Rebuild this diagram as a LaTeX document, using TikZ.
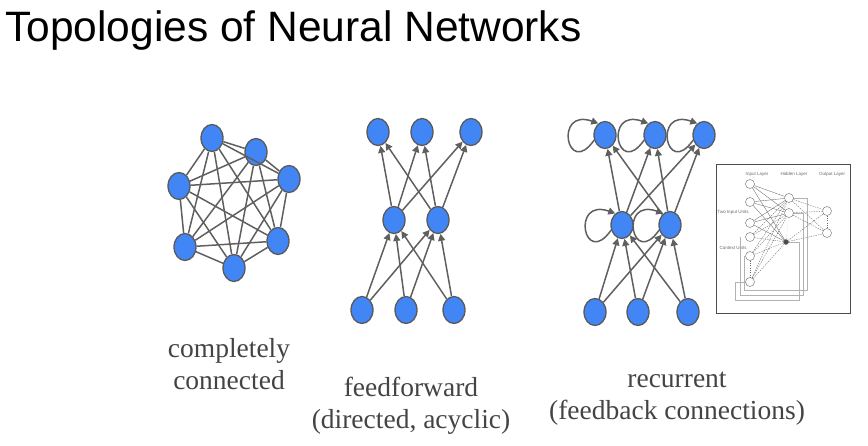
\documentclass[tikz,border=0pt]{standalone}
\usepackage{fontspec}
\setmainfont{Liberation Serif}
\newfontfamily\headfont{Liberation Sans}
\usetikzlibrary{shapes.geometric,arrows.meta}

\definecolor{nodeblue}{HTML}{4285F4}
\definecolor{rimgray}{HTML}{595959}
\definecolor{linkgray}{HTML}{5F5F5F}
\definecolor{captiongray}{HTML}{444444}
\definecolor{sketchgray}{HTML}{6A6A6A}

\begin{document}
\begin{tikzpicture}[x=1pt,y=-1pt,
  neuron/.style={ellipse, draw=rimgray, fill=nodeblue, line width=1.3pt,
    minimum width=22pt, minimum height=27pt, inner sep=0pt},
  link/.style={draw=linkgray, line width=1.5pt},
  flow/.style={link, -{Triangle[length=7pt,width=7pt]}},
  caption/.style={font=\fontsize{27.5}{32}\selectfont, text=captiongray, align=center},
  unit/.style={circle, draw=sketchgray, fill=white, line width=0.4pt,
    minimum size=9pt, inner sep=0pt},
  tinytext/.style={font=\headfont\fontsize{4.5}{5}\selectfont, text=sketchgray, inner sep=0pt},
  wire/.style={draw=sketchgray, line width=0.35pt},
  feedback/.style={draw=black!30, line width=0.6pt},
]
\useasboundingbox (0,0) rectangle (868,445);

% heading
\node[anchor=base west, inner sep=0pt, font=\headfont\fontsize{42.5}{48}\selectfont]
  (title) at (5,41) {Topologies of Neural Networks};

% ---- completely connected graph ----
\node[neuron] (c1) at (212,138) {};
\node[neuron] (c2) at (256,152) {};
\node[neuron] (c3) at (289,179) {};
\node[neuron] (c4) at (179,186) {};
\node[neuron] (c5) at (185,247) {};
\node[neuron] (c6) at (278,241) {};
\node[neuron] (c7) at (234,268) {};
\foreach \i [evaluate=\i as \k using int(\i+1)] in {1,...,6}
  \foreach \j in {\k,...,7}
    \draw[link] (c\i) -- (c\j);

% ---- feedforward network ----
\node[neuron] (f1) at (378,132) {};
\node[neuron] (f2) at (422,132) {};
\node[neuron] (f3) at (471,132) {};
\node[neuron] (h1) at (394,220) {};
\node[neuron] (h2) at (438,220) {};
\node[neuron] (i1) at (362,310) {};
\node[neuron] (i2) at (406,310) {};
\node[neuron] (i3) at (454,310) {};
\foreach \a in {h1,h2}
  \foreach \b in {f1,f2,f3}
    \draw[flow] (\a) -- (\b);
\foreach \a in {i1,i2,i3}
  \foreach \b in {h1,h2}
    \draw[flow] (\a) -- (\b);

% ---- recurrent network ----
\node[neuron] (rt1) at (605,135) {};
\node[neuron] (rt2) at (655,135) {};
\node[neuron] (rt3) at (704,135) {};
\node[neuron] (rh1) at (622,225) {};
\node[neuron] (rh2) at (670,225) {};
\node[neuron] (ri1) at (595,312) {};
\node[neuron] (ri2) at (638,312) {};
\node[neuron] (ri3) at (688,312) {};
\foreach \a in {rh1,rh2}
  \foreach \b in {rt1,rt2,rt3}
    \draw[flow] (\a) -- (\b);
\foreach \a in {ri1,ri2,ri3}
  \foreach \b in {rh1,rh2}
    \draw[flow] (\a) -- (\b);
% self-feedback loops on the left of each unit (y grows downwards)
\foreach \n in {rt1,rt2,rt3,rh1,rh2}
  \draw[flow] (\n.205) .. controls +(-27,39) and +(-45,-16) .. (\n.120);

% ---- Elman network sketch ----
\draw[draw=black!70, line width=0.9pt] (716,164) rectangle (850,313);
\node[tinytext] (lin)  at (757,174) {Input Layer};
\node[tinytext] (lhid) at (794,174) {Hidden Layer};
\node[tinytext] (lout) at (832,174) {Output Layer};
\node[tinytext] (ltwo) at (733,212) {Two Input Units};
\node[tinytext] (lctx) at (733,248) {Context Units};

\draw[feedback] (789,198) -- (807,198) -- (807,290) -- (744,290) -- (744,256);
\draw[feedback] (789,213) -- (803,213) -- (803,295) -- (740,295) -- (740,237);
\draw[feedback] (786,242) -- (799,242) -- (799,300) -- (735,300) -- (735,282) -- (750,282);

\node[unit] (u1) at (750,184) {};
\node[unit] (u2) at (750,202) {};
\node[unit] (u3) at (750,223) {};
\node[unit] (u4) at (750,237) {};
\node[unit] (u5) at (750,256) {};
\node[unit] (u6) at (750,282) {};
\node[unit] (v1) at (789,198) {};
\node[unit] (v2) at (789,213) {};
\node[unit, fill=black!70, minimum size=5pt] (v3) at (786,242) {};
\node[unit] (w1) at (827,211) {};
\node[unit] (w2) at (827,233) {};

\foreach \a in {u1,u2,u3}
  \foreach \b in {v1,v2,v3}
    \draw[wire] (\a) -- (\b);
\foreach \a in {u4,u5,u6}
  \foreach \b in {v1,v2,v3}
    \draw[wire, dash pattern=on 1.5pt off 1pt] (\a) -- (\b);
\foreach \a in {v1,v2,v3}
  \foreach \b in {w1,w2}
    \draw[wire, dash pattern=on 1.5pt off 1pt] (\a) -- (\b);
\draw[wire, dotted] (u5) -- (u6);
\draw[wire, dotted] (v2) -- (v3);
\draw[wire, dotted] (w1) -- (w2);

% ---- captions ----
\node[caption] (capfull) at (229,364) {completely\\connected};
\node[caption] (capff)   at (411,406) {feedforward\\(directed, acyclic)};
\node[caption] (caprec)  at (677,399) {recurrent\\(feedback connections)};
\end{tikzpicture}
\end{document}
